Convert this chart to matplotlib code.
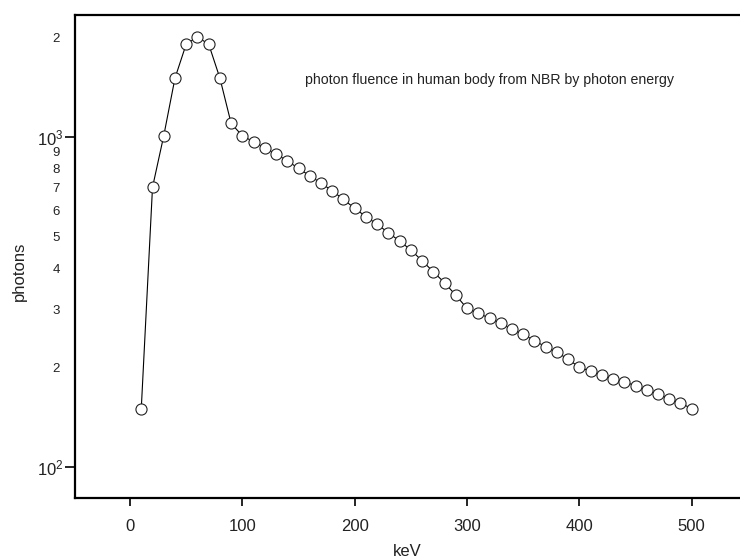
import numpy as np
import matplotlib
matplotlib.use("Agg")
import matplotlib.pyplot as plt
from matplotlib.ticker import FixedLocator, FuncFormatter, NullFormatter

# photon energy (keV) and photon fluence
energy_kev = [10, 20, 30, 40, 50, 60, 70, 80, 90, 100,
              110, 120, 130, 140, 150, 160, 170, 180, 190, 200,
              210, 220, 230, 240, 250, 260, 270, 280, 290, 300,
              310, 320, 330, 340, 350, 360, 370, 380, 390, 400,
              410, 420, 430, 440, 450, 460, 470, 480, 490, 500]
photons = [150, 703, 1007, 1506, 1910, 2006, 1910, 1506, 1098, 1007,
           966, 926, 886, 846, 802, 762, 724, 686, 646, 607,
           573, 543, 512, 483, 454, 421, 390, 361, 331, 302,
           292, 282, 272, 261, 252, 241, 231, 222, 212, 200,
           195, 190, 185, 181, 176, 171, 166, 161, 156, 150]

x_ticks = [0, 100, 200, 300, 400, 500]
y_major = [100, 1000]
y_minor = [200, 300, 400, 500, 600, 700, 800, 900, 2000]

plt.rcParams["font.family"] = ["Liberation Sans", "DejaVu Sans"]
plt.rcParams["mathtext.fontset"] = "custom"
plt.rcParams["mathtext.rm"] = "Liberation Sans"

fig = plt.figure(figsize=(7.4, 5.6), dpi=100)
ax = fig.add_axes([75 / 740, 62 / 560, 1 - 75 / 740, 483 / 560])

ax.plot(energy_kev, photons, "-o", color="black", lw=0.8,
        ms=8, mfc="white", mec="#222222", mew=0.8, clip_on=False)

ax.set_yscale("log")
ax.set_xlim(-49, 543)
ax.set_ylim(80.4, 2340)

ax.xaxis.set_major_locator(FixedLocator(x_ticks))
ax.yaxis.set_major_locator(FixedLocator(y_major))
ax.yaxis.set_minor_locator(FixedLocator(y_minor))
ax.yaxis.set_major_formatter(
    FuncFormatter(lambda v, p: r"$\mathregular{10^{%d}}$" % round(np.log10(v))))
ax.yaxis.set_minor_formatter(
    FuncFormatter(lambda v, p: "%d" % round(v / 10 ** np.floor(np.log10(v) + 1e-9))))
ax.xaxis.set_minor_formatter(NullFormatter())

ax.tick_params(axis="x", which="major", direction="out", length=6, width=1.2,
               labelsize=12, pad=9, colors="black", labelcolor="#222222")
ax.tick_params(axis="y", which="major", direction="out", length=7, width=1.2,
               labelsize=12, pad=1, labelcolor="#222222")
ax.tick_params(axis="y", which="minor", length=0, labelsize=9.5, pad=11,
               labelcolor="#222222")

for side in ["left", "bottom", "top"]:
    ax.spines[side].set_linewidth(1.6)
ax.spines["right"].set_visible(False)

ax.set_xlabel("keV", fontsize=12, color="#222222", labelpad=7)
ax.set_ylabel("photons", fontsize=12, color="#222222")
ax.yaxis.set_label_coords(-0.072, 0.47)

ax.text(0.346, 0.866, "photon fluence in human body from NBR by photon energy",
        transform=ax.transAxes, fontsize=10.2, color="#222222", va="center")

fig.savefig("out.png", dpi=100)
